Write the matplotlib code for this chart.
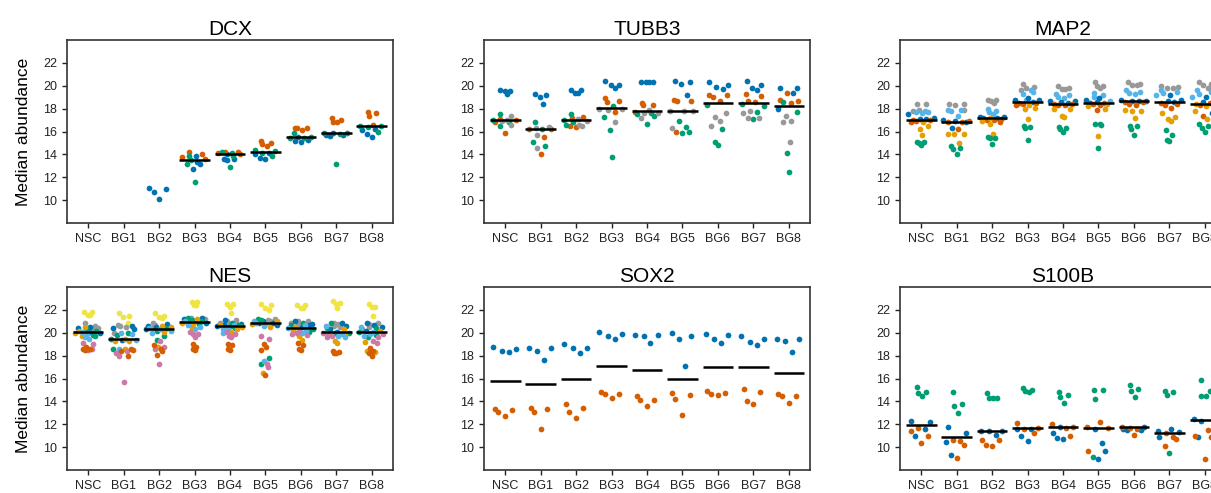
import numpy as np
import pandas as pd
import matplotlib.pyplot as plt

plt.rcParams['font.family'] = ['Liberation Sans', 'DejaVu Sans']

groups = ['NSC', 'BG1', 'BG2', 'BG3', 'BG4', 'BG5', 'BG6', 'BG7', 'BG8']

palette = {
    'blue': '#0072B2', 'vermilion': '#D55E00', 'green': '#009E73', 'gray': '#999999',
    'sky': '#56B4E9', 'orange': '#E69F00', 'yellow': '#F0E442', 'pink': '#CC79A7',
}

# values per series, one list of replicates per group (NSC..BG8)
dcx = {
    'blue': [[], [], [11.1, 10.7, 11.0, 10.1], [13.9, 13.2, 12.7, 13.3], [14.0, 13.6, 13.5, 13.6],
             [14.0, 13.6, 13.7, 14.1], [15.2, 15.1, 15.3, 15.5], [15.6, 15.7, 15.7, 15.9], [16.1, 15.8, 15.5, 16.2]],
    'vermilion': [[], [], [], [14.2, 14.0, 13.8, 13.6], [14.2, 14.2, 14.1, 14.0],
                  [15.2, 14.9, 14.7, 15.0], [16.3, 16.3, 16.1, 16.3], [17.2, 16.8, 17.0, 16.8], [17.7, 17.6, 17.4, 16.6]],
    'green': [[], [], [], [13.9, 13.5, 13.2, 11.6], [14.2, 14.1, 13.9, 12.9],
              [14.4, 14.3, 14.1, 13.9], [15.9, 15.5, 15.4, 15.4], [15.9, 15.8, 15.9, 13.2], [16.5, 16.5, 16.0, 16.4]],
}

tubb3 = {
    'blue': [[19.6, 19.55, 19.3, 19.55], [19.3, 19.0, 18.45, 19.2], [19.6, 19.4, 19.4, 19.6], [20.4, 20.1, 19.8, 20.1],
             [20.3, 20.3, 20.3, 20.3], [20.4, 20.2, 19.2, 20.3], [20.3, 19.9, 19.7, 20.1], [20.4, 19.8, 19.6, 20.1],
             [19.8, 19.4, 18.0, 19.8]],
    'vermilion': [[17.1, 17.0, 16.8, 15.9], [16.2, 15.5, 14.0, 16.2], [17.3, 17.2, 16.4, 16.5], [18.9, 18.6, 18.7, 17.7],
                  [18.5, 18.3, 18.3, 17.7], [18.8, 18.7, 18.7, 16.0], [19.2, 19.0, 18.7, 19.2], [19.3, 18.7, 18.6, 19.1],
                  [18.8, 19.4, 18.5, 18.7]],
    'green': [[17.5, 16.8, 16.5, 17.0], [16.8, 16.2, 15.1, 14.7], [17.5, 16.6, 16.8, 17.0], [18.2, 17.3, 16.1, 13.8],
              [17.4, 17.5, 16.7, 17.6], [16.9, 16.4, 15.9, 16.0], [18.3, 15.1, 14.8, 16.2], [18.4, 17.1, 17.7, 18.2],
              [18.6, 14.1, 12.5, 17.7]],
    'gray': [[17.4, 16.6, 17.0, 16.9], [16.4, 15.7, 14.6, 16.3], [16.6, 16.5, 17.1, 16.9], [18.0, 17.9, 16.8, 18.0],
             [17.2, 17.6, 17.6, 17.9], [17.8, 17.8, 16.3, 17.8], [16.5, 17.3, 16.9, 17.6], [17.6, 17.8, 17.2, 17.2],
             [16.8, 17.4, 16.9, 15.1]],
}

map2 = {
    'gray': [[18.4, 18.4, 17.9, 17.8], [18.4, 18.3, 18.4, 17.9], [18.8, 18.7, 18.5, 18.8], [20.2, 19.8, 19.6, 19.9],
             [20.0, 19.7, 19.7, 19.8], [20.3, 20.0, 19.8, 20.0], [20.3, 20.1, 20.2, 20.1], [20.0, 19.8, 19.8, 19.9],
             [20.3, 20.2, 20.1, 19.8]],
    'sky': [[17.7, 17.8, 17.6, 17.7], [17.9, 17.8, 17.4, 17.9], [18.0, 17.8, 17.5, 17.7], [19.5, 19.3, 19.6, 18.8],
            [19.2, 19.3, 19.0, 18.9], [19.4, 19.2, 19.0, 18.7], [19.6, 19.4, 19.5, 19.3], [19.6, 19.4, 19.5, 19.2],
            [19.6, 19.5, 19.3, 19.0]],
    'blue': [[17.5, 17.1, 17.1, 17.2], [16.3, 16.9, 17.0, 16.8], [17.3, 17.2, 17.3, 17.2], [18.9, 18.8, 18.6, 18.8],
             [18.7, 18.7, 18.6, 18.5], [18.9, 18.8, 18.6, 18.5], [18.8, 18.7, 18.7, 18.7], [19.2, 18.7, 18.6, 18.8],
             [19.0, 18.6, 17.6, 18.7]],
    'vermilion': [[17.0, 17.0, 16.9, 16.8], [16.9, 16.2, 16.8, 16.8], [17.1, 17.0, 17.0, 16.8], [18.5, 18.5, 18.3, 18.4],
                  [18.4, 18.3, 18.4, 18.3], [18.5, 18.4, 18.3, 17.9], [18.6, 18.3, 18.6, 18.4], [18.3, 18.1, 18.5, 18.4],
                  [18.4, 17.4, 18.3, 18.5]],
    'orange': [[16.8, 16.2, 15.7, 16.5], [15.8, 15.8, 15.0, 15.8], [16.7, 16.9, 15.8, 17.2], [18.1, 18.0, 17.1, 18.3],
               [18.0, 17.4, 17.3, 18.0], [18.2, 18.0, 15.6, 18.4], [17.9, 17.8, 17.2, 17.8], [17.6, 17.1, 17.3, 16.9],
               [18.2, 17.8, 17.1, 18.4]],
    'green': [[15.1, 15.0, 14.8, 15.1], [14.7, 14.5, 14.0, 14.6], [15.5, 15.4, 15.4, 14.9], [16.4, 16.3, 16.5, 15.3],
              [16.4, 16.2, 16.0, 16.3], [16.7, 16.6, 16.7, 14.6], [16.5, 16.2, 16.5, 15.7], [16.1, 15.7, 15.3, 15.2],
              [16.7, 16.3, 16.0, 16.5]],
}

nes = {
    'yellow': [[21.8, 21.6, 21.6, 21.8], [21.7, 21.4, 21.5, 20.9], [21.7, 21.5, 21.3, 21.4], [22.7, 22.4, 22.4, 22.7],
               [22.5, 22.3, 21.7, 22.5], [22.5, 22.0, 22.2, 22.4], [22.4, 22.2, 22.2, 22.4], [22.8, 22.5, 22.2, 22.6],
               [22.5, 22.3, 22.3, 21.5]],
    'gray': [[20.9, 20.6, 20.4, 20.3], [20.7, 20.6, 20.5, 20.0], [20.9, 20.7, 20.5, 20.4], [21.3, 21.2, 21.1, 21.0],
             [21.1, 21.0, 20.9, 20.8], [21.2, 21.1, 21.0, 20.9], [21.0, 20.9, 20.8, 21.0], [20.9, 20.8, 20.6, 20.5],
             [20.9, 20.8, 20.5, 20.3]],
    'blue': [[20.5, 20.4, 20.1, 20.0], [20.6, 20.4, 20.3, 19.4], [20.8, 20.5, 20.3, 20.6], [21.3, 21.0, 20.9, 21.2],
             [21.1, 20.8, 20.7, 20.6], [21.0, 20.9, 20.9, 20.7], [21.0, 20.8, 20.5, 20.7], [20.9, 20.6, 20.3, 20.1],
             [20.9, 20.7, 20.2, 20.5]],
    'green': [[20.3, 20.2, 19.8, 19.7], [20.0, 19.8, 19.5, 18.6], [20.4, 20.2, 19.4, 19.7], [21.3, 21.1, 20.8, 21.0],
              [20.9, 20.7, 20.4, 20.6], [21.2, 21.1, 17.8, 17.3], [20.9, 20.7, 20.3, 20.1], [20.9, 20.4, 20.0, 20.0],
              [20.4, 20.1, 19.8, 19.6]],
    'orange': [[20.5, 20.0, 19.7, 20.2], [19.5, 19.3, 18.6, 19.3], [20.6, 20.5, 20.1, 18.8], [21.2, 20.8, 20.4, 20.9],
               [20.7, 20.5, 20.3, 20.1], [21.0, 20.8, 20.5, 16.5], [20.5, 20.2, 19.7, 19.4], [20.3, 19.8, 19.3, 19.1],
               [20.2, 19.2, 18.4, 18.3]],
    'sky': [[20.1, 19.9, 19.6, 19.5], [20.0, 19.9, 19.4, 18.6], [20.4, 20.2, 20.0, 20.3], [21.0, 20.7, 20.5, 20.3],
            [20.7, 20.4, 20.3, 20.0], [21.0, 20.9, 20.6, 17.5], [20.7, 20.4, 20.0, 20.2], [20.6, 19.9, 19.6, 19.7],
            [20.5, 20.1, 19.9, 19.7]],
    'pink': [[19.1, 19.0, 18.5, 18.6], [18.4, 18.2, 18.0, 15.7], [19.3, 18.8, 18.6, 17.3], [20.1, 19.9, 19.6, 19.9],
             [20.1, 19.9, 19.7, 19.6], [19.5, 19.7, 17.3, 17.0], [20.2, 20.0, 19.8, 19.9], [20.0, 19.8, 19.7, 19.6],
             [19.9, 19.3, 19.1, 19.6]],
    'vermilion': [[18.8, 18.6, 18.5, 18.6], [18.6, 18.5, 18.0, 18.4], [18.9, 18.6, 18.4, 18.1], [19.0, 18.8, 18.6, 18.5],
                  [19.0, 18.9, 18.6, 18.5], [19.0, 18.8, 18.5, 16.3], [19.1, 18.9, 18.6, 18.5], [18.4, 18.2, 18.2, 18.3],
                  [18.7, 18.4, 18.0, 18.2]],
}

sox2 = {
    'blue': [[18.8, 18.45, 18.3, 18.55], [18.65, 18.45, 17.65, 18.65], [19.0, 18.65, 18.2, 18.7],
             [20.05, 19.75, 19.45, 19.9], [19.8, 19.75, 19.1, 19.8], [19.95, 19.5, 17.1, 19.75],
             [19.9, 19.45, 19.1, 19.8], [19.7, 19.2, 18.9, 19.5], [19.5, 19.3, 18.3, 19.45]],
    'vermilion': [[13.3, 13.1, 12.7, 13.25], [13.4, 13.1, 11.55, 13.35], [13.8, 13.1, 12.55, 13.4],
                  [14.8, 14.65, 14.3, 14.65], [14.45, 14.1, 13.6, 14.15], [14.75, 14.2, 12.85, 14.55],
                  [14.9, 14.65, 14.55, 14.75], [15.1, 14.0, 13.8, 14.8], [14.65, 14.45, 13.85, 14.45]],
}

s100b = {
    'green': [[15.25, 14.7, 14.5, 14.85], [14.85, 13.6, 13.0, 13.75], [14.7, 14.3, 14.3, 14.3], [15.2, 15.0, 14.8, 14.9],
              [14.8, 14.4, 13.9, 14.6], [15.0, 14.2, 15.0, 9.1], [15.4, 14.9, 15.1, 14.4], [14.9, 14.6, 14.8, 9.5],
              [15.9, 14.5, 14.5, 14.9]],
    'blue': [[12.3, 10.95, 11.6, 12.2], [11.8, 10.45, 9.35, 11.25], [11.4, 11.4, 11.1, 11.4], [11.6, 11.0, 10.5, 11.6],
             [11.2, 10.8, 10.7, 11.8], [11.6, 10.4, 9.7, 9.0], [11.8, 11.5, 11.5, 11.6], [11.4, 10.9, 11.6, 11.3],
             [12.5, 12.4, 10.9, 12.3]],
    'vermilion': [[11.45, 11.7, 10.4, 11.0], [10.6, 10.5, 9.05, 10.15], [10.6, 10.2, 10.1, 10.6], [12.1, 11.6, 11.2, 11.7],
                  [12.0, 11.7, 11.0, 11.8], [11.8, 12.2, 11.7, 9.7], [11.6, 11.1, 11.7, 11.8], [11.2, 10.1, 10.9, 10.7],
                  [11.0, 11.5, 9.0, 10.9]],
}

panels = [('DCX', dcx), ('TUBB3', tubb3), ('MAP2', map2),
          ('NES', nes), ('SOX2', sox2), ('S100B', s100b)]


def to_frame(data):
    rows = []
    for series, per_group in data.items():
        for g, vals in zip(groups, per_group):
            for v in vals:
                rows.append((g, v, series))
    return pd.DataFrame(rows, columns=['group', 'value', 'series'])


def van_der_corput(n):
    out = []
    for k in range(1, n + 1):
        q, denom, x = k, 1, 0.0
        while q:
            denom *= 2
            q, r = divmod(q, 2)
            x += r / denom
        out.append(x)
    return np.array(out)


def quasirandom(y, width=0.4):
    # density-scaled quasirandom offsets (like ggbeeswarm)
    y = np.asarray(y, float)
    n = len(y)
    if n < 2:
        return np.zeros(n)
    sd = y.std(ddof=1)
    iqr = np.subtract(*np.percentile(y, [75, 25])) / 1.34
    lo = min(sd, iqr) if iqr > 0 else sd
    bw = 0.9 * lo * n ** -0.2
    grid = np.linspace(y.min() - 3 * bw, y.max() + 3 * bw, 512)
    dens = lambda t: np.exp(-0.5 * ((t[:, None] - y[None, :]) / bw) ** 2).sum(axis=1)
    d = dens(y) / dens(grid).max()
    rank = np.argsort(np.argsort(y, kind='stable'), kind='stable')
    vdc = van_der_corput(n)[rank]
    return (vdc - 0.5) * 2 * width * d


fig = plt.figure(figsize=(12.11, 4.93), dpi=100)

lefts = [0.0553, 0.3997, 0.7432]
bottoms = [0.5477, 0.0467]
w, h = 0.2692, 0.371

for i, (name, data) in enumerate(panels):
    row, col = divmod(i, 3)
    ax = fig.add_axes([lefts[col], bottoms[row], w, h])
    df = to_frame(data)
    df['pos'] = df['group'].map({g: k for k, g in enumerate(groups)}).astype(float)
    for g, sub in df.groupby('group'):
        df.loc[sub.index, 'pos'] += quasirandom(sub['value'].values)

    for series in data:
        sub = df[df['series'] == series]
        ax.scatter(sub['pos'], sub['value'], s=17, color=palette[series], linewidths=0, zorder=3)

    # median line only for complete groups
    stats = df.groupby('group')['value'].agg(['median', 'count'])
    for k, g in enumerate(groups):
        if g in stats.index and stats.loc[g, 'count'] > 4:
            ax.hlines(stats.loc[g, 'median'], k - 0.43, k + 0.43, color='black', lw=1.8, zorder=5)

    ax.set_xticks(range(len(groups)))
    ax.set_xticklabels(groups)
    ax.set_xlim(-0.6, 8.6)
    ax.set_ylim(8, 24)
    ax.set_yticks(range(10, 23, 2))
    ax.set_title(name, fontsize=15, pad=4)
    if col == 0:
        ax.set_ylabel('Median abundance', fontsize=12.5, labelpad=9)
    ax.tick_params(direction='out', length=3.5, width=1, labelsize=9, colors='#222222')
    for s in ax.spines.values():
        s.set_linewidth(1.2)
        s.set_color('#333333')

fig.savefig('out.png', dpi=100)
